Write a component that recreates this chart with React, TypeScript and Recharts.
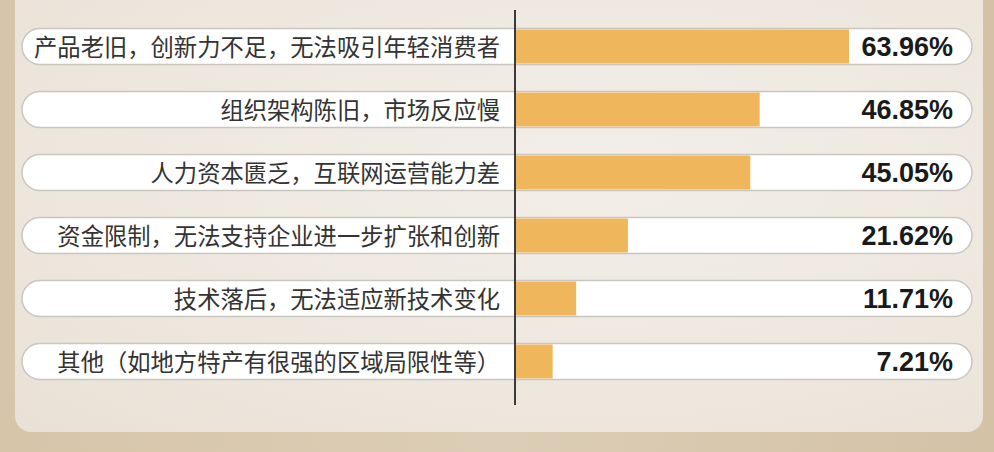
import React from 'react';
import { BarChart, Bar, XAxis, YAxis, LabelList, usePlotArea } from 'recharts';

const categories = [
  '产品老旧，创新力不足，无法吸引年轻消费者',
  '组织架构陈旧，市场反应慢',
  '人力资本匮乏，互联网运营能力差',
  '资金限制，无法支持企业进一步扩张和创新',
  '技术落后，无法适应新技术变化',
  '其他（如地方特产有很强的区域局限性等）',
];
const shares = [63.96, 46.85, 45.05, 21.62, 11.71, 7.21];

const data = categories.map((name, i) => ({ name, value: shares[i] }));

const W = 994;
const H = 452;
const margin = { top: 14.5, right: 22, bottom: 59.5, left: 0 };
const PILL_LEFT = 22;
const ORANGE = '#f0b65c';

const PillBackground = (props: any) => {
  const { x, y, width, height } = props;
  const right = x + width;
  return (
    <rect
      x={PILL_LEFT}
      y={y}
      width={right - PILL_LEFT}
      height={height}
      rx={height / 2}
      ry={height / 2}
      fill="#ffffff"
      stroke="#c9c6c0"
      strokeWidth={1.5}
    />
  );
};

const OrangeBar = (props: any) => {
  const { x, y, width, height } = props;
  return <rect x={x + 1} y={y + 1} width={Math.max(width - 1, 0)} height={height - 2} fill={ORANGE} />;
};

const CategoryTick = (props: any) => {
  const { x, y, payload } = props;
  return (
    <text
      x={x}
      y={y}
      textAnchor="end"
      dominantBaseline="central"
      fill="#333333"
      fontSize={23.3}
      fontFamily='"Noto Sans CJK SC", sans-serif'
    >
      {payload.value}
    </text>
  );
};

const ValueLabel = (props: any) => {
  const { y, height, value } = props;
  return (
    <text
      x={W - margin.right - 19}
      y={y + height / 2}
      textAnchor="end"
      dominantBaseline="central"
      fill="#1a1a1a"
      fontSize={27}
      fontWeight="bold"
      fontFamily='"Liberation Sans", Arial, sans-serif'
    >
      {value.toFixed(2)}%
    </text>
  );
};

// vertical axis line, a bit taller than the plot area
const AxisLine = () => {
  const area = usePlotArea();
  if (!area) return null;
  return (
    <line
      x1={area.x}
      y1={area.y - 4.5}
      x2={area.x}
      y2={area.y + area.height + 12.5}
      stroke="#3a3a3a"
      strokeWidth={2}
    />
  );
};

export default function App() {
  return (
    <div
      style={{
        position: 'absolute',
        left: 0,
        top: 0,
        width: W,
        height: H,
        overflow: 'hidden',
        background: 'linear-gradient(90deg, #d6c5a8 0%, #dccdb6 50%, #d3c2a5 100%)',
      }}
    >
      <div
        style={{
          position: 'absolute',
          left: 15,
          top: 0,
          width: 968,
          height: 432,
          borderRadius: '0 0 16px 16px',
          background:
            'radial-gradient(ellipse at 60% 40%, #f2eee8 0%, #ede7de 60%, #e8e1d5 100%)',
        }}
      />
      <div style={{ position: 'absolute', left: 0, top: 0 }}>
        <BarChart width={W} height={H} data={data} layout="vertical" margin={margin} barSize={36}>
          <XAxis type="number" domain={[0, 87.5]} hide />
          <YAxis
            type="category"
            dataKey="name"
            width={515}
            axisLine={false}
            tickLine={false}
            tickSize={0}
            tickMargin={15}
            interval={0}
            tick={<CategoryTick />}
          />
          <Bar
            dataKey="value"
            isAnimationActive={false}
            background={<PillBackground />}
            shape={<OrangeBar />}
          >
            <LabelList dataKey="value" content={<ValueLabel />} />
          </Bar>
          <AxisLine />
        </BarChart>
      </div>
    </div>
  );
}
